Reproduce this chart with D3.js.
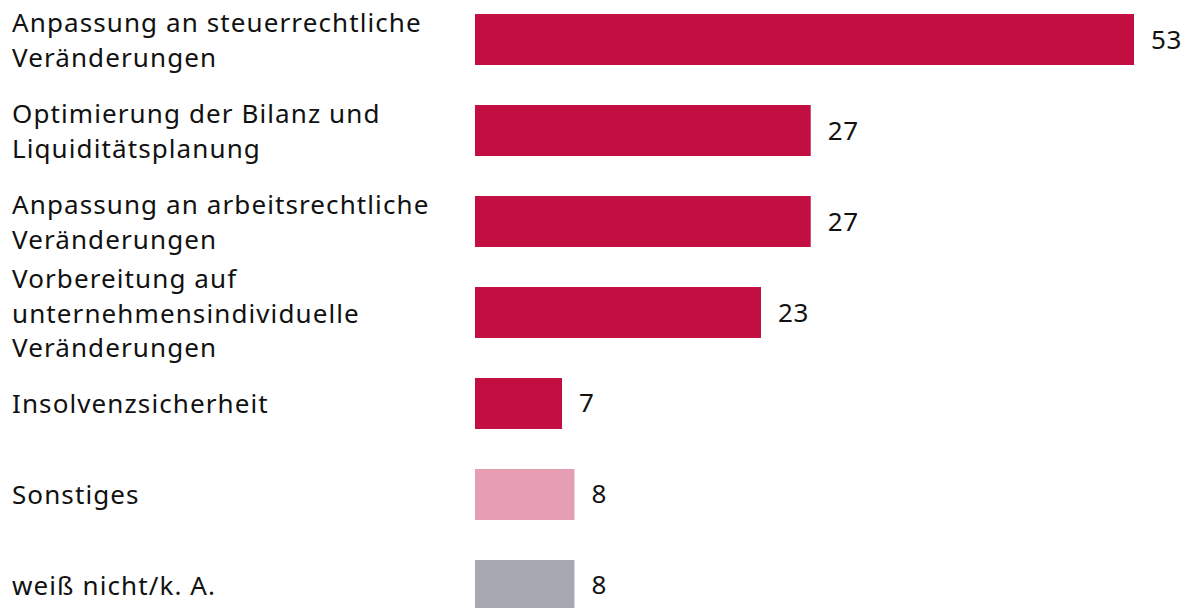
<!DOCTYPE html>
<html>
<head>
<meta charset="utf-8">
<script src="https://cdn.jsdelivr.net/npm/d3@7"></script>
<style>
  body { margin: 0; background: #fff; }
  svg { display: block; }
</style>
</head>
<body>
<svg id="chart" width="1187" height="608"></svg>
<script>
// categories, already broken into the lines used in the picture
var categories = [
  ["Anpassung an steuerrechtliche", "Veränderungen"],
  ["Optimierung der Bilanz und", "Liquiditätsplanung"],
  ["Anpassung an arbeitsrechtliche", "Veränderungen"],
  ["Vorbereitung auf", "unternehmensindividuelle", "Veränderungen"],
  ["Insolvenzsicherheit"],
  ["Sonstiges"],
  ["weiß nicht/k. A."]
];
var values = [53, 27, 27, 23, 7, 8, 8];
var barKinds = ["main", "main", "main", "main", "main", "other", "unknown"];

var colors = { main: "#c20e40", other: "#e59eb2", unknown: "#a7a9b2" };

var svg = d3.select("#chart");
var fontFam = "'Noto Sans', 'Open Sans', sans-serif";
var lineH = 34.5;

var x = d3.scaleLinear().domain([0, 53]).range([475, 1134]);
var y = d3.scaleBand()
  .domain(d3.range(categories.length))
  .range([-26, 651])
  .paddingInner(0.44)
  .paddingOuter(0.44);

// bars
svg.selectAll("rect.bar")
  .data(values)
  .enter()
  .append("rect")
  .attr("class", "bar")
  .attr("x", x(0))
  .attr("y", function(d, i) { return y(i); })
  .attr("width", function(d) { return x(d) - x(0); })
  .attr("height", y.bandwidth())
  .attr("fill", function(d, i) { return colors[barKinds[i]]; });

// value labels
svg.selectAll("text.val")
  .data(values)
  .enter()
  .append("text")
  .attr("class", "val")
  .attr("x", function(d) { return x(d) + 17; })
  .attr("y", function(d, i) { return y(i) + y.bandwidth() / 2 - 1; })
  .attr("dominant-baseline", "central")
  .attr("font-family", fontFam)
  .attr("font-size", "26px")
  .attr("letter-spacing", "0.6px")
  .attr("fill", "#111")
  .text(function(d) { return d; });

// category labels
var labels = svg.selectAll("text.cat")
  .data(categories)
  .enter()
  .append("text")
  .attr("class", "cat")
  .attr("font-family", fontFam)
  .attr("font-size", "26px")
  .attr("letter-spacing", "1.1px")
  .attr("fill", "#111");

labels.each(function(lines, i) {
  var mid = y(i) + y.bandwidth() / 2;
  var t = d3.select(this);
  lines.forEach(function(line, j) {
    t.append("tspan")
      .attr("x", 12)
      .attr("y", mid + (j - (lines.length - 1) / 2) * lineH)
      .attr("dominant-baseline", "central")
      .text(line);
  });
});
</script>
</body>
</html>
